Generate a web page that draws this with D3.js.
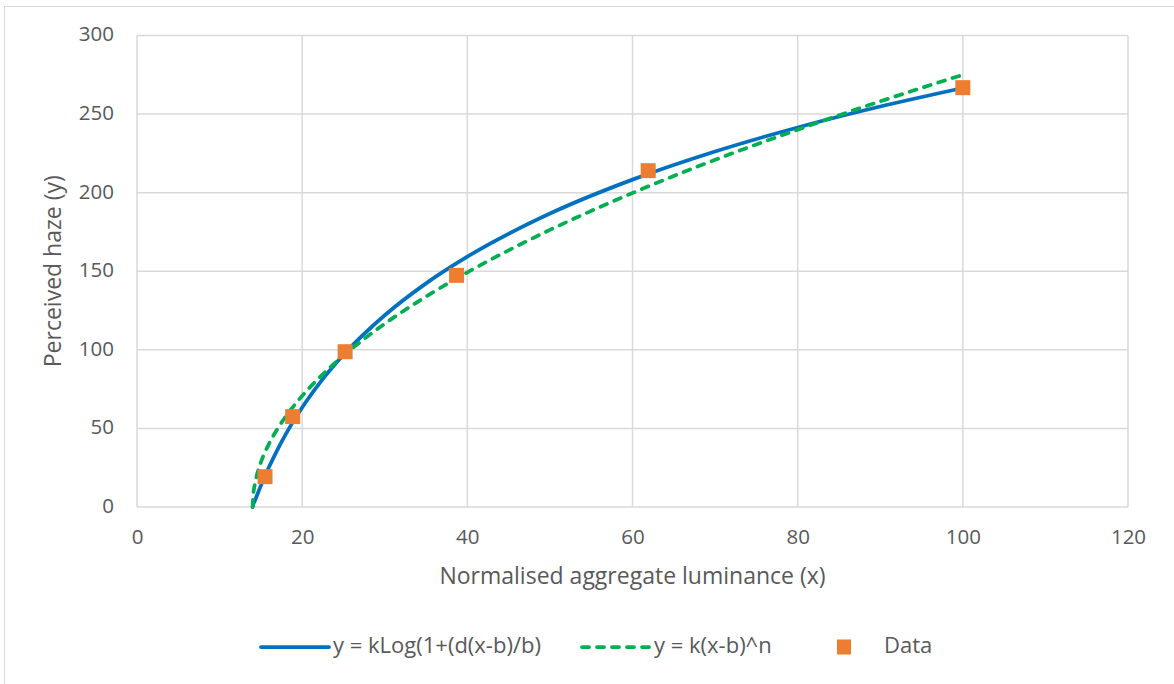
<!DOCTYPE html>
<html>
<head>
<meta charset="utf-8">
<script src="https://cdnjs.cloudflare.com/ajax/libs/d3/7.8.5/d3.min.js"></script>
<style>
  html, body { margin: 0; padding: 0; background: #ffffff; }
  svg { display: block; }
  text { font-family: "Open Sans", "Noto Sans", sans-serif; fill: #595959; }
</style>
</head>
<body>
<svg id="chart" width="1174" height="684"></svg>
<script>
// ---- data ----
const xTicks = [0, 20, 40, 60, 80, 100, 120];
const yTicks = [0, 50, 100, 150, 200, 250, 300];

// measured points
const dataX = [15.5, 18.85, 25.2, 38.7, 61.9, 100];
const dataY = [19.3, 57.5, 98.8, 147.4, 214.0, 266.8];

// fitted curves
const fitX = [14, 14.05, 14.25, 14.5, 15, 16, 17, 18, 20, 22, 25, 30, 35, 40, 50, 60, 70, 80, 90, 100];
const logFitY = [0, 1.4, 3.6, 7.0, 13.6, 25.6, 36.4, 46.2, 63.3, 78.0, 96.8, 122.0, 142.3, 159.3, 186.7, 208.3, 226.2, 241.5, 254.8, 266.6];
const powFitY = [0, 6.2, 14.0, 19.9, 28.4, 40.4, 49.6, 57.5, 70.7, 81.9, 96.3, 116.6, 133.9, 149.3, 176.3, 199.8, 220.9, 240.1, 258.1, 275.0];

const seriesNames = ["y = kLog(1+(d(x-b)/b)", "y = k(x-b)^n", "Data"];
const xTitle = "Normalised aggregate luminance (x)";
const yTitle = "Perceived haze (y)";

// ---- drawing ----
const svg = d3.select("#chart");
const C = { blue: "#0070C0", green: "#00B050", orange: "#ED7D31", grid: "#d9d9d9" };

// chart outer border
svg.append("rect").attr("x", 4.5).attr("y", 6.5).attr("width", 1175).attr("height", 690)
  .attr("fill", "#fff").attr("stroke", "#d9d9d9").attr("stroke-width", 1);

const L = 137, R = 1128, T = 35.5, B = 507;
const x = d3.scaleLinear().domain([0, 120]).range([L, R]);
const y = d3.scaleLinear().domain([0, 300]).range([B, T]);

// gridlines
const g = svg.append("g");
g.selectAll(".vg").data(xTicks).enter().append("line")
  .attr("x1", d => x(d)).attr("x2", d => x(d)).attr("y1", T).attr("y2", B)
  .attr("stroke", C.grid).attr("stroke-width", 1.5);
g.selectAll(".hg").data(yTicks).enter().append("line")
  .attr("x1", L).attr("x2", R).attr("y1", d => y(d)).attr("y2", d => y(d))
  .attr("stroke", C.grid).attr("stroke-width", 1.5);

// axes via d3 axis generators (labels only)
const fs = 20.5;
const xAxis = svg.append("g").attr("transform", `translate(0,${B})`)
  .call(d3.axisBottom(x).tickValues(xTicks).tickSize(0).tickPadding(0));
xAxis.select(".domain").remove();
xAxis.selectAll("text").attr("dy", null).attr("y", 32).attr("dominant-baseline", "middle")
  .style("font-size", fs + "px").style("font-family", '"Open Sans", sans-serif').attr("fill", "#595959");

const yAxis = svg.append("g").attr("transform", `translate(${L},0)`)
  .call(d3.axisLeft(y).tickValues(yTicks).tickSize(0).tickPadding(0));
yAxis.select(".domain").remove();
yAxis.selectAll("text").attr("dy", null).attr("x", -23).attr("dominant-baseline", "middle")
  .style("font-size", fs + "px").style("font-family", '"Open Sans", sans-serif').attr("fill", "#595959");

// axis titles
svg.append("text").attr("x", (L + R) / 2).attr("y", 578).attr("text-anchor", "middle")
  .attr("dominant-baseline", "middle").style("font-size", "23px").text(xTitle);
svg.append("text").attr("transform", `translate(55,${(T + B) / 2}) rotate(-90)`)
  .attr("text-anchor", "middle").attr("dominant-baseline", "middle")
  .style("font-size", "23px").text(yTitle);

// curves
const line = d3.line().x(d => x(d[0])).y(d => y(d[1])).curve(d3.curveMonotoneX);
const logPts = fitX.map((v, i) => [v, logFitY[i]]);
const powPts = fitX.map((v, i) => [v, powFitY[i]]);

svg.append("path").attr("d", line(logPts)).attr("fill", "none")
  .attr("stroke", C.blue).attr("stroke-width", 3.75).attr("stroke-linecap", "round");
svg.append("path").attr("d", line(powPts)).attr("fill", "none")
  .attr("stroke", C.green).attr("stroke-width", 3.75).attr("stroke-linecap", "round")
  .attr("stroke-dasharray", "7,8");

// data markers
const ms = 15;
svg.selectAll(".pt").data(dataX.map((v, i) => [v, dataY[i]])).enter().append("rect")
  .attr("x", d => x(d[0]) - ms / 2).attr("y", d => y(d[1]) - ms / 2)
  .attr("width", ms).attr("height", ms).attr("fill", C.orange);

// legend
const ly = 647;
const lfs = 22;
const leg = svg.append("g");
leg.append("line").attr("x1", 261).attr("x2", 329).attr("y1", ly).attr("y2", ly)
  .attr("stroke", C.blue).attr("stroke-width", 3.75).attr("stroke-linecap", "round");
leg.append("text").attr("x", 333).attr("y", ly).attr("dominant-baseline", "middle")
  .style("font-size", lfs + "px").text(seriesNames[0]);
leg.append("line").attr("x1", 582).attr("x2", 650).attr("y1", ly).attr("y2", ly)
  .attr("stroke", C.green).attr("stroke-width", 3.75).attr("stroke-linecap", "round")
  .attr("stroke-dasharray", "7,8");
leg.append("text").attr("x", 654).attr("y", ly).attr("dominant-baseline", "middle")
  .style("font-size", lfs + "px").text(seriesNames[1]);
leg.append("rect").attr("x", 837).attr("y", ly - 7.5).attr("width", 14).attr("height", 15)
  .attr("fill", C.orange);
leg.append("text").attr("x", 884).attr("y", ly).attr("dominant-baseline", "middle")
  .style("font-size", lfs + "px").text(seriesNames[2]);
</script>
</body>
</html>
